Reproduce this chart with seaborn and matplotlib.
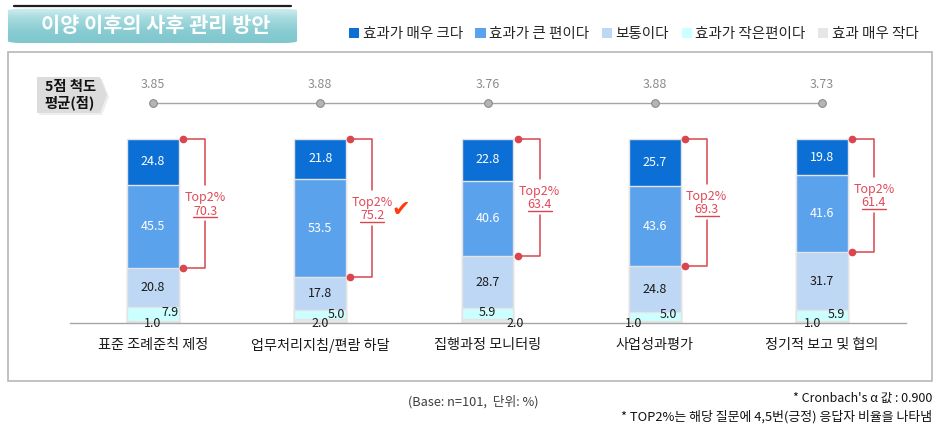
import matplotlib
matplotlib.use('Agg')
import matplotlib.pyplot as plt
import seaborn as sns
import numpy as np
from matplotlib.patches import Rectangle, Polygon, FancyBboxPatch
from matplotlib.colors import LinearSegmentedColormap

# ---------------- data ----------------
categories = ['표준 조례준칙 제정', '업무처리지침/편람 하달', '집행과정 모니터링', '사업성과평가', '정기적 보고 및 협의']
very_effective = [24.8, 21.8, 22.8, 25.7, 19.8]
effective = [45.5, 53.5, 40.6, 43.6, 41.6]
neutral = [20.8, 17.8, 28.7, 24.8, 31.7]
less_effective = [7.9, 5.0, 5.9, 5.0, 5.9]
not_effective = [1.0, 2.0, 2.0, 1.0, 1.0]
mean_scores = [3.85, 3.88, 3.76, 3.88, 3.73]
top2 = [70.3, 75.2, 63.4, 69.3, 61.4]
series_names = ['효과가 매우 크다', '효과가 큰 편이다', '보통이다', '효과가 작은편이다', '효과 매우 작다']
title = '이양 이후의 사후 관리 방안'

# ---------------- style ----------------
colors = ['#0B6FD6', '#5AA2EC', '#BDD7F4', '#CCFFFF', '#E6E6E6']
red = '#D9464E'
W, H = 947, 429
sns.set_style('white')
plt.rcParams['font.family'] = ['Noto Sans CJK KR', 'DejaVu Sans']

fig = plt.figure(figsize=(W / 100, H / 100), dpi=100)

def fx(px):
    return px / W

def fy(py):
    return 1 - py / H

# outer frame
fig.patches.append(Rectangle((fx(8), fy(381)), fx(932) - fx(8), fy(52) - fy(381),
                             transform=fig.transFigure, fill=False, edgecolor='#B8B8B8', lw=1.2))

ax = fig.add_axes([fx(69.5), fy(323), fx(905.5) - fx(69.5), fy(47) - fy(323)])
ax.set_facecolor('none')

x = np.arange(len(categories))
layers = [not_effective, less_effective, neutral, effective, very_effective]
layer_colors = [colors[4], colors[3], colors[2], colors[1], colors[0]]
cum = np.cumsum(np.array(layers), axis=0)

# draw from tallest cumulative to shortest
for i in range(len(layers) - 1, -1, -1):
    sns.barplot(x=categories, y=cum[i], color=layer_colors[i], saturation=1, width=0.31,
                errorbar=None, edgecolor='#E4E4E4', linewidth=1.0, ax=ax, zorder=2)

ax.set_xlim(-0.5, 4.5)
ax.set_ylim(0, 150)
px_x = 836 / 5.0  # px per category unit
px_y = 276 / 150.0  # px per y unit

# segment labels
for j in range(len(categories)):
    bottoms = [0] + list(cum[:, j])
    for k, col in zip([4, 3, 2], ['white', 'white', '#1A1A1A']):
        mid = (bottoms[k] + bottoms[k + 1]) / 2
        ax.text(x[j], mid, f'{layers[k][j]:.1f}', ha='center', va='center',
                color=col, fontsize=9, zorder=5)

small_dx = [17, 16, 0, 14, 14]
small_dy = [10, 9, 10, 8, 8]
tiny_dx = [0, 0, 28, -21, -9]
for j in range(len(categories)):
    ax.text(x[j] + small_dx[j] / px_x, small_dy[j] / px_y, f'{less_effective[j]:.1f}',
            ha='center', va='center', color='#1A1A1A', fontsize=9, zorder=5)
    ax.text(x[j] + tiny_dx[j] / px_x, -0.3, f'{not_effective[j]:.1f}',
            ha='center', va='center', color='#1A1A1A', fontsize=9, zorder=5)

# Top2% brackets
for j in range(len(categories)):
    top = cum[4, j]
    bot = cum[2, j]
    mid = (top + bot) / 2
    xd = x[j] + 30 / px_x
    xv = x[j] + 52 / px_x
    ax.plot([xd, xv, xv], [top, top, mid + 10], color=red, lw=1.1, zorder=4, clip_on=False)
    ax.plot([xv, xv, xd], [mid - 9.5, bot, bot], color=red, lw=1.1, zorder=4, clip_on=False)
    ax.plot([xd, xd], [top, bot], ls='none', marker='o', ms=4.5, color=red, zorder=5, clip_on=False)
    ax.text(xv, mid + 3.2, 'Top2%', ha='center', va='center', color='#E04A58', fontsize=9, zorder=5)
    ax.text(xv, mid - 4.0, f'{top2[j]:.1f}', ha='center', va='center', color='#E04A58', fontsize=9, zorder=5)
    ax.plot([xv - 12 / px_x, xv + 12 / px_x], [mid - 7.5, mid - 7.5], color=red, lw=1.0, zorder=5)

# check mark beside the highest Top2%
jbest = int(np.argmax(top2))
ax.text(x[jbest] + 80 / px_x, (cum[4, jbest] + cum[2, jbest]) / 2 - 1, '✔', ha='center', va='center',
        color='#FF3A10', fontsize=16, fontfamily='DejaVu Sans', zorder=6)

# mean score row (decorative flat line)
mean_y = (323 - 103) / px_y
ax.plot(x, [mean_y] * len(x), color='#A6A6A6', lw=1.0, zorder=3, clip_on=False)
ax.plot(x, [mean_y] * len(x), ls='none', marker='o', ms=5.5, mfc='#B5B5B5', mec='#8A8A8A',
        mew=0.8, zorder=4, clip_on=False)
for j in range(len(x)):
    ax.text(x[j], (323 - 84) / px_y, f'{mean_scores[j]:.2f}', ha='center', va='center',
            color='#8C8C8C', fontsize=9)

# axes cosmetics
for s in ['top', 'left', 'right']:
    ax.spines[s].set_visible(False)
ax.spines['bottom'].set_color('#A6A6A6')
ax.spines['bottom'].set_linewidth(1.0)
ax.set_yticks([])
ax.set_xlabel('')
ax.set_ylabel('')
ax.set_xticks(x)
ax.set_xticklabels(categories, fontsize=10.2, color='#1A1A1A')
ax.set_xticks([0.5, 1.5, 2.5, 3.5], minor=True)
ax.tick_params(axis='x', which='major', length=0, pad=11)
ax.tick_params(axis='x', which='minor', direction='in', length=4, color='#A6A6A6', width=1)

# legend
handles = [Rectangle((0, 0), 1, 1, facecolor=c, edgecolor='none') for c in colors]
fig.legend(handles, series_names, loc='center left', bbox_to_anchor=(fx(349), fy(34)), ncol=5,
           frameon=False, fontsize=10.5, handlelength=0.7, handleheight=0.7, handletextpad=0.25,
           columnspacing=0.85, borderaxespad=0, borderpad=0)

# title box with gradient
tax = fig.add_axes([fx(5), fy(43), fx(300) - fx(5), fy(4) - fy(43)])
tax.set_xlim(0, 1)
tax.set_ylim(0, 1)
tax.axis('off')
grad = np.linspace(0, 1, 100).reshape(-1, 1)
cmap = LinearSegmentedColormap.from_list('t', ['#E6F7F8', '#A9DCE0', '#8ACDD3', '#7FC6CD'])
im = tax.imshow(grad, extent=[0, 1, 0, 1], aspect='auto', cmap=cmap, origin='upper')
clip = FancyBboxPatch((0.01, 0.0), 0.98, 0.88, boxstyle='round,pad=0,rounding_size=0.05',
                      mutation_aspect=1.0, transform=tax.transAxes, facecolor='none', edgecolor='none')
tax.add_patch(clip)
im.set_clip_path(clip)
tax.plot([0.03, 0.97], [0.95, 0.95], color='#1E1E1E', lw=1.6, solid_capstyle='round')
tax.text(0.51, 0.44, title, ha='center', va='center', color='white', fontsize=15, fontweight='bold')

# "5점 척도 평균(점)" tag
sh = 2
fig.patches.append(Polygon([(fx(37 + sh), fy(77 + sh)), (fx(100 + sh), fy(77 + sh)), (fx(107 + sh), fy(95 + sh)),
                            (fx(100 + sh), fy(113 + sh)), (fx(37 + sh), fy(113 + sh))],
                           closed=True, transform=fig.transFigure, facecolor='#EEEEEE', edgecolor='none'))
fig.patches.append(Polygon([(fx(37), fy(77)), (fx(100), fy(77)), (fx(107), fy(95)),
                            (fx(100), fy(113)), (fx(37), fy(113))],
                           closed=True, transform=fig.transFigure, facecolor='#DCDCDC', edgecolor='none'))
fig.text(fx(70), fy(87), '5점 척도', ha='center', va='center', fontsize=10.3, fontweight='bold', color='#111111')
fig.text(fx(70), fy(103), '평균(점)', ha='center', va='center', fontsize=10.3, fontweight='bold', color='#111111')

# footer notes
fig.text(fx(408), fy(402), '(Base: n=101,  단위: %)', ha='left', va='center', fontsize=9.2, color='#404040')
fig.text(fx(932), fy(398), "* Cronbach's α 값 : 0.900", ha='right', va='center', fontsize=9, color='#111111')
fig.text(fx(932), fy(417), '* TOP2%는 해당 질문에 4,5번(긍정) 응답자 비율을 나타냄', ha='right', va='center',
         fontsize=9.3, color='#111111')

fig.savefig('out.png', dpi=100)
